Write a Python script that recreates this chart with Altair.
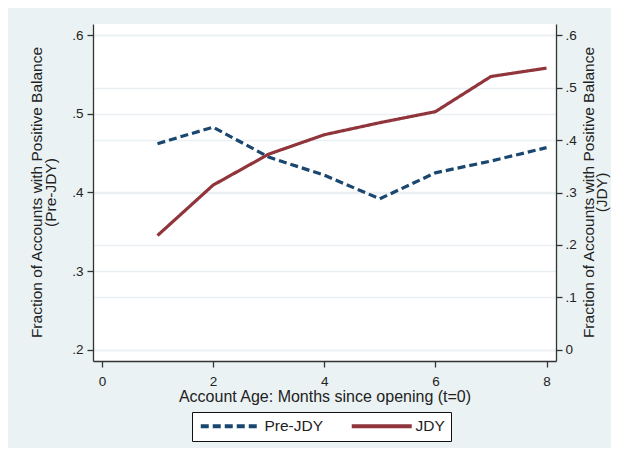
import altair as alt
import pandas as pd

months = [1, 2, 3, 4, 5, 6, 7, 8]
pre_jdy = [0.462, 0.483, 0.445, 0.422, 0.392, 0.425, 0.440, 0.457]
jdy = [0.218, 0.314, 0.373, 0.410, 0.433, 0.454, 0.521, 0.537]
series_names = ["Pre-JDY", "JDY"]
series_colors = ["#1a476f", "#90353b"]
x_ticks = [0, 2, 4, 6, 8]
left_ticks = [0.2, 0.3, 0.4, 0.5, 0.6]
right_ticks = [0.0, 0.1, 0.2, 0.3, 0.4, 0.5, 0.6]

rows = []
for m, v in zip(months, pre_jdy):
    rows.append({"month": m, "value": v, "series": "Pre-JDY"})
for m, v in zip(months, jdy):
    rows.append({"month": m, "value": v, "series": "JDY"})
df = pd.DataFrame(rows)

FONT = "Liberation Sans"
label_expr = "datum.value == 0 ? '0' : replace(format(datum.value, '.1f'), '0.', '.')"

legend_def = alt.Legend(
    title=None,
    orient="none",
    legendX=99,
    legendY=388,
    direction="horizontal",
)

color = alt.Color(
    "series:N",
    scale=alt.Scale(domain=series_names, range=series_colors),
    legend=legend_def,
)
dash = alt.StrokeDash(
    "series:N",
    scale=alt.Scale(domain=series_names, range=[[8, 4], [1, 0]]),
    legend=legend_def,
)

x_enc = alt.X(
    "month:Q",
    scale=alt.Scale(domain=[-0.16, 8.17], nice=False, zero=False),
    axis=alt.Axis(
        values=x_ticks,
        title="Account Age: Months since opening (t=0)",
        grid=False,
        labelPadding=7,
        titlePadding=1,
    ),
)

left = alt.Chart(df).transform_filter(alt.datum.series == "Pre-JDY").mark_line(
    strokeWidth=3.2
).encode(
    x=x_enc,
    y=alt.Y(
        "value:Q",
        scale=alt.Scale(domain=[0.186, 0.614], nice=False, zero=False),
        axis=alt.Axis(
            orient="left",
            values=left_ticks,
            labelExpr=label_expr,
            title=["Fraction of Accounts with Positive Balance", "(Pre-JDY)"],
            grid=True,
            titleAngle=270,
            titleBaseline="bottom",
            titleAlign="center",
            titleX=-49,
            titleY=168,
            titleFontSize=15.5,
            labelPadding=4,
        ),
    ),
    color=color,
    strokeDash=dash,
)

right = alt.Chart(df).transform_filter(alt.datum.series == "JDY").mark_line(
    strokeWidth=3.2
).encode(
    x=x_enc,
    y=alt.Y(
        "value:Q",
        scale=alt.Scale(domain=[-0.021, 0.621], nice=False, zero=False),
        axis=alt.Axis(
            orient="right",
            values=right_ticks,
            labelExpr=label_expr,
            title=["Fraction of Accounts with Positive Balance", "(JDY)"],
            titleAngle=270,
            titleBaseline="top",
            titleAlign="center",
            titleX=25,
            titleY=168,
            titleFontSize=15.5,
            titleLineHeight=13,
            grid=True,
            labelPadding=3,
        ),
    ),
    color=color,
    strokeDash=dash,
)

chart = (
    alt.layer(left, right)
    .resolve_scale(y="independent")
    .properties(
        width=463,
        height=337,
        autosize=alt.AutoSizeParams(type="none"),
        padding={"left": 85, "top": 16, "right": 55, "bottom": 87},
        background="#eaf2f3",
    )
    .configure_view(strokeWidth=0, fill="white")
    .configure_axis(
        labelFont=FONT,
        titleFont=FONT,
        labelFontSize=13.5,
        titleFontSize=16,
        titleFontWeight="normal",
        labelColor="#222222",
        titleColor="#222222",
        domainColor="#333333",
        tickColor="#333333",
        domainWidth=1.3,
        tickWidth=1.3,
        tickSize=6,
        gridColor="#eaf0f2",
        gridWidth=1.5,
        titleLineHeight=14,
    )
    .configure_legend(
        labelFont=FONT,
        labelFontSize=15.5,
        labelColor="#222222",
        symbolType="M-1,0H11",
        symbolSize=100,
        symbolStrokeWidth=4,
        labelOffset=51,
        columnPadding=19,
        padding=6,
        strokeColor="#111111",
        fillColor="white",
        cornerRadius=0,
    )
)

chart.save("out.html", embed_options={"renderer": "svg", "actions": False})
